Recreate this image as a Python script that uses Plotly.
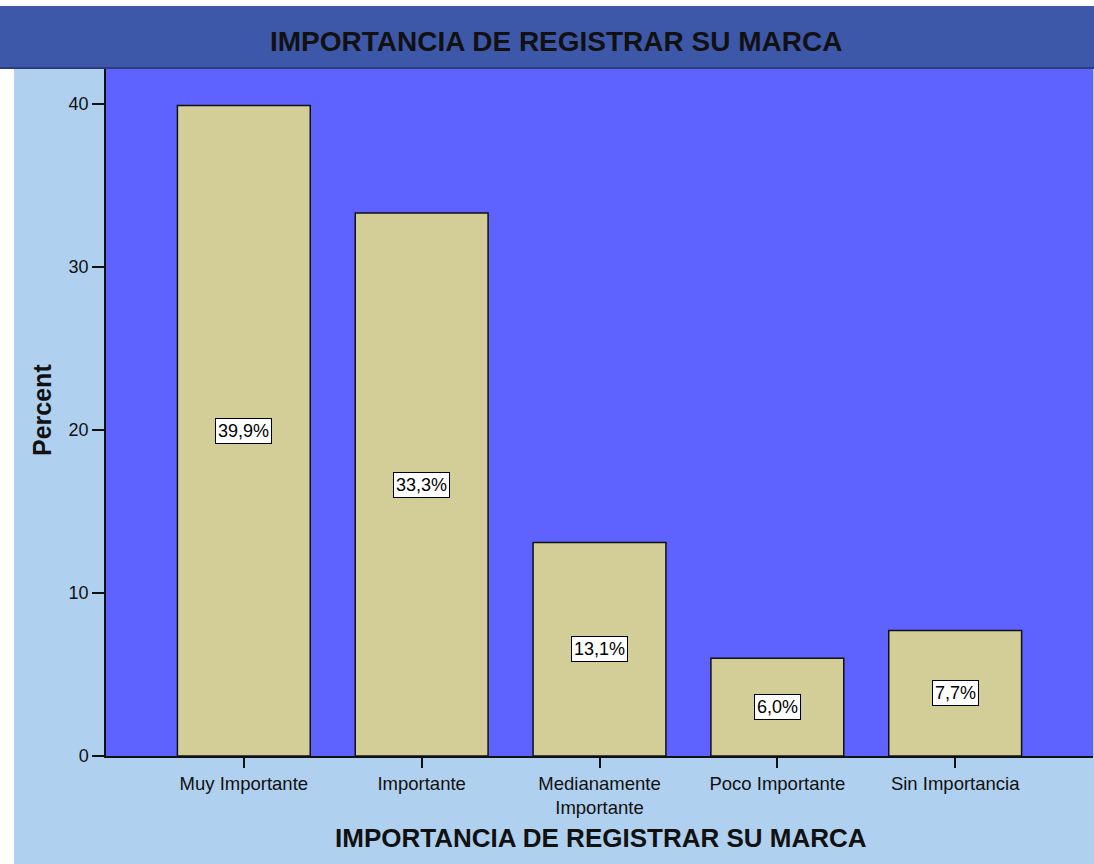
import plotly.graph_objects as go

categories = ["Muy Importante", "Importante", "Medianamente<br>Importante", "Poco Importante", "Sin Importancia"]
percents = [39.9, 33.3, 13.1, 6.0, 7.7]
labels = ["39,9%", "33,3%", "13,1%", "6,0%", "7,7%"]
y_ticks = [0, 10, 20, 30, 40]

W, H = 1094, 864
PL, PT, PR, PB = 106, 68, 1093, 756  # plot area in page pixels
L, T = PL, PT
R = W - PR
B = H - PB
pw, ph = W - L - R, H - T - B


def px(x):
    return (x - L) / pw


def py(y):
    return (H - B - y) / ph


FONT = "Liberation Sans, Arial, sans-serif"

fig = go.Figure()
fig.add_trace(go.Bar(
    x=list(range(len(categories))), y=percents,
    width=0.747,
    marker=dict(color="#D3CD98", line=dict(color="#111111", width=1.5)),
    hoverinfo="skip",
))

for i, (v, lab) in enumerate(zip(percents, labels)):
    fig.add_annotation(x=i, y=v / 2, xref="x", yref="y", text=lab, showarrow=False,
                       xanchor="center", yanchor="middle",
                       font=dict(family=FONT, size=18, color="black"),
                       bgcolor="white", bordercolor="black", borderwidth=1, borderpad=2)

shapes = [
    # title band
    dict(type="rect", xref="paper", yref="paper", x0=px(-50), x1=px(1200), y0=py(68), y1=py(6),
         fillcolor="#3E58A9", line=dict(width=0), layer="below"),
    dict(type="line", xref="paper", yref="paper", x0=px(0), x1=px(1200), y0=py(68), y1=py(68),
         line=dict(color="#2B3C7C", width=2)),
    # top white strip
    dict(type="rect", xref="paper", yref="paper", x0=px(-50), x1=px(1200), y0=py(6), y1=py(-50),
         fillcolor="white", line=dict(width=0), layer="below"),
    # left white strip
    dict(type="rect", xref="paper", yref="paper", x0=px(-50), x1=px(14), y0=py(1000), y1=py(68),
         fillcolor="white", line=dict(width=0), layer="below"),
]

fig.add_annotation(x=px(556), y=py(42), xref="paper", yref="paper",
                   xanchor="center", yanchor="middle",
                   text="<b>IMPORTANCIA DE REGISTRAR SU MARCA</b>", showarrow=False,
                   font=dict(family=FONT, size=28, color="#111111"))
fig.add_annotation(x=px(601), y=py(838), xref="paper", yref="paper",
                   xanchor="center", yanchor="middle",
                   text="<b>IMPORTANCIA DE REGISTRAR SU MARCA</b>", showarrow=False,
                   font=dict(family=FONT, size=26, color="#111111"))
fig.add_annotation(x=px(42), y=py(410), xref="paper", yref="paper",
                   xanchor="center", yanchor="middle",
                   text="<b>Percent</b>", showarrow=False, textangle=-90,
                   font=dict(family=FONT, size=25, color="#111111"))

fig.update_layout(
    width=W, height=H,
    margin=dict(l=L, r=R, t=T, b=B, pad=0),
    paper_bgcolor="#AFD0EE",
    plot_bgcolor="#5E62FF",
    showlegend=False,
    shapes=shapes,
    xaxis=dict(range=[-0.775, 4.775], tickmode="array", tickvals=list(range(len(categories))),
               ticktext=categories, ticks="outside", ticklen=10, tickwidth=1.5, tickcolor="#111111",
               showline=True, linecolor="#111111", linewidth=1.5, showgrid=False, zeroline=False,
               tickfont=dict(family=FONT, size=18.5, color="#111111")),
    yaxis=dict(range=[0, 42.2], tickmode="array", tickvals=y_ticks, ticks="outside", ticklen=12,
               tickwidth=1.5, tickcolor="#111111", showline=True, linecolor="#111111", linewidth=1.5,
               showgrid=False, zeroline=False,
               tickfont=dict(family=FONT, size=18, color="#111111")),
)

fig.write_html("out.html", config={"displayModeBar": False},
               post_script="document.body.style.margin='0';document.body.style.overflow='hidden';")
